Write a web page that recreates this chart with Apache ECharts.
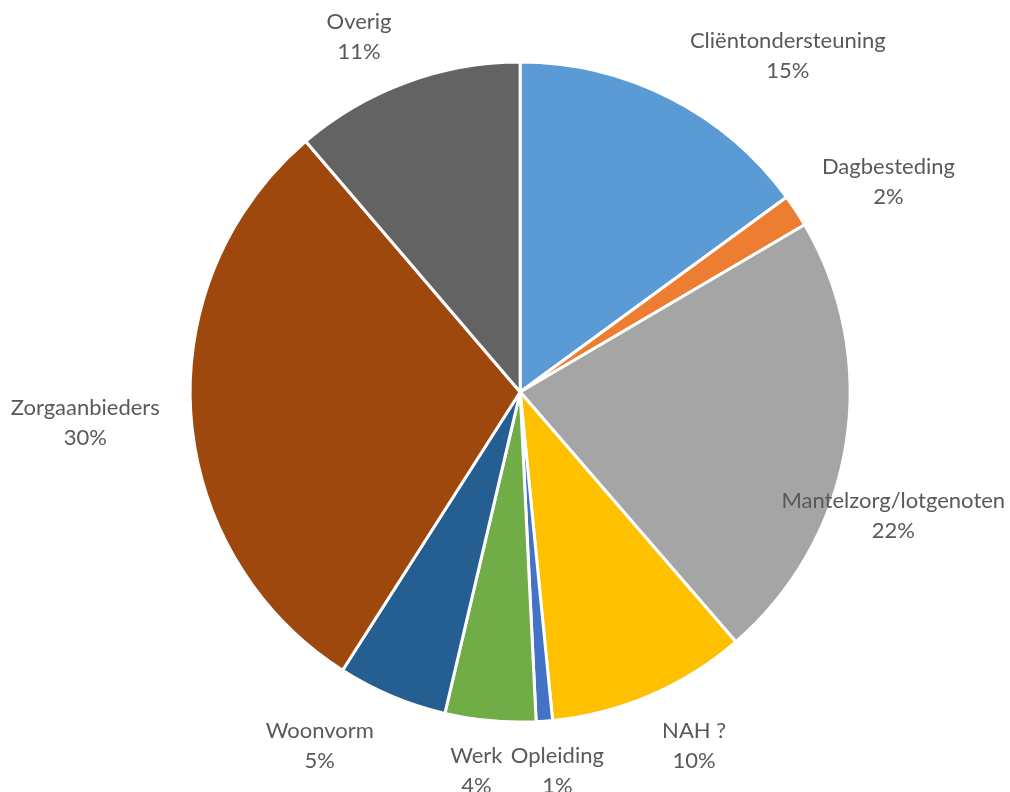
<!DOCTYPE html>
<html>
<head>
<meta charset="utf-8">
<script src="https://cdn.jsdelivr.net/npm/echarts@6/dist/echarts.min.js"></script>
<style>
  html, body { margin: 0; padding: 0; background: #fff; }
  #main { width: 1010px; height: 792px; }
</style>
</head>
<body>
<div id="main"></div>
<script>
// categories, clockwise from the top
var categories = ['Cliëntondersteuning', 'Dagbesteding', 'Mantelzorg/lotgenoten', 'NAH ?',
  'Opleiding', 'Werk', 'Woonvorm', 'Zorgaanbieders', 'Overig']
var values = [15.0, 1.6, 22.2, 9.8, 0.8, 4.45, 5.4, 29.8, 11.3]
var colors = ['#5b9bd5', '#ed7d31', '#a5a5a5', '#ffc000', '#4472c4', '#70ad47', '#255e91', '#9e480e', '#636363']

// where each label sits (Excel "best fit"): angle clockwise from top, distance from pie centre
var labelAngle = [38.5, 60.3, 108.3, 153.8, 174.4, 186.6, 209.5, 265.9, 335.6]
var labelDist = [430, 424, 393, 394, 381, 381, 407, 436, 390]

var chart = echarts.init(document.getElementById('main'))

var pieData = categories.map(function (name, i) {
  return { name: name, value: values[i], itemStyle: { color: colors[i] } }
})

var option = {
  animation: false,
  series: [
    {
      type: 'pie',
      center: ['51.5%', '49.5%'],
      radius: 330,
      startAngle: 90,
      clockwise: true,
      avoidLabelOverlap: false,
      data: pieData,
      itemStyle: {
        borderColor: '#fff',
        borderWidth: 3,
      },
      label: {
        show: true,
        position: 'outside',
        formatter: function (p) {
          return p.name + '\n' + Math.round(p.percent) + '%'
        },
        color: '#595959',
        fontFamily: 'Lato',
        fontSize: 22,
        lineHeight: 30,
      },
      labelLine: { show: false, length: 20, length2: 0 },
      labelLayout: function (params) {
        var i = params.dataIndex
        var cx = chart.getWidth() * 0.515
        var cy = chart.getHeight() * 0.495
        var a = labelAngle[i] * Math.PI / 180
        return {
          x: cx + Math.sin(a) * labelDist[i],
          y: cy - Math.cos(a) * labelDist[i],
          align: 'center',
          verticalAlign: 'middle',
        }
      },
    },
  ],
}

chart.setOption(option)
</script>
</body>
</html>
